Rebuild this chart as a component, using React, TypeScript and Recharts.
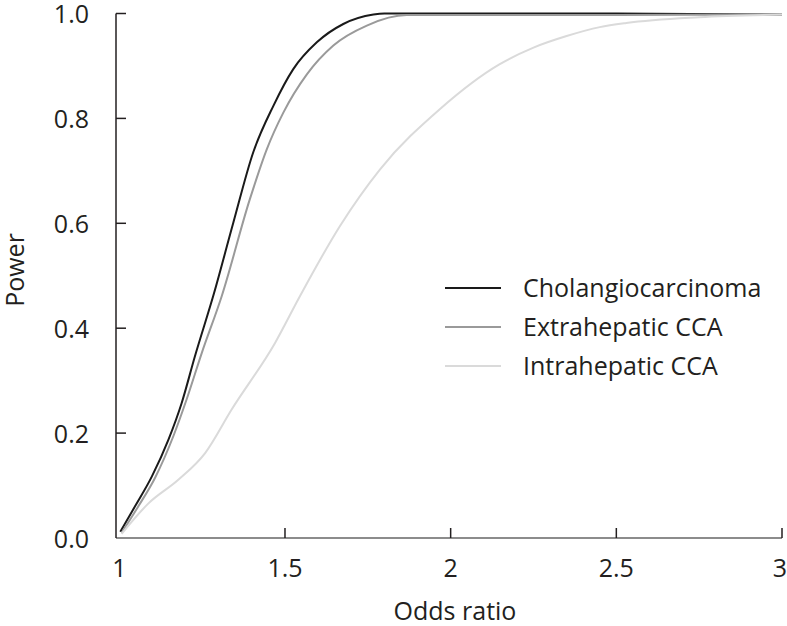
import React from 'react';
import { LineChart, Line, XAxis, YAxis } from 'recharts';

const choOR = [1.003, 1.047, 1.098, 1.148, 1.188, 1.228, 1.286, 1.344, 1.404, 1.465, 1.525, 1.596, 1.676, 1.767, 1.8, 1.9, 2.5, 3];
const choPower = [0.012, 0.06, 0.117, 0.187, 0.257, 0.346, 0.467, 0.601, 0.735, 0.824, 0.894, 0.945, 0.98, 0.998, 1.0, 1.0, 1.0, 0.998];

const extOR = [1.007, 1.057, 1.108, 1.163, 1.203, 1.249, 1.309, 1.394, 1.445, 1.495, 1.566, 1.646, 1.747, 1.867, 2.5, 3];
const extPower = [0.01, 0.06, 0.115, 0.194, 0.264, 0.353, 0.461, 0.646, 0.741, 0.811, 0.884, 0.939, 0.977, 0.997, 0.997, 0.998];

const intOR = [1.007, 1.088, 1.178, 1.259, 1.339, 1.47, 1.545, 1.666, 1.787, 1.968, 2.147, 2.25, 2.35, 2.45, 2.53, 2.75, 3];
const intPower = [0.008, 0.066, 0.111, 0.162, 0.245, 0.372, 0.461, 0.595, 0.703, 0.818, 0.903, 0.935, 0.957, 0.974, 0.982, 0.993, 0.998];

const seriesNames = ['Cholangiocarcinoma', 'Extrahepatic CCA', 'Intrahepatic CCA'];
const seriesColors = ['#1a1a1a', '#9a9a9a', '#dadada'];
const xTicks = [1, 1.5, 2, 2.5, 3];
const yTicks = [0, 0.2, 0.4, 0.6, 0.8, 1.0];
const xLabel = 'Odds ratio';
const yLabel = 'Power';

const zip = (xs: number[], ys: number[]) => xs.map((x, i) => ({ x, y: ys[i] }));
const series = [zip(choOR, choPower), zip(extOR, extPower), zip(intOR, intPower)];

const FONT = '"Open Sans", sans-serif';
const TEXT = '#231f20';
const FS = 25;

const YTick = (props: any) => {
  const { x, y, payload } = props;
  const ax = x + 27;
  return (
    <g>
      {payload.value > 0 && (
        <line x1={ax} x2={ax + 10} y1={y} y2={y} stroke={TEXT} strokeWidth={1.5} />
      )}
      <text x={x} y={y} dy={9.5} textAnchor="end" fontFamily={FONT} fontSize={FS} fill={TEXT}>
        {payload.value.toFixed(1)}
      </text>
    </g>
  );
};

const XTick = (props: any) => {
  const { x, y, payload } = props;
  return (
    <g>
      {payload.value > 1 && (
        <line x1={x} x2={x} y1={y} y2={y - 10} stroke={TEXT} strokeWidth={1.5} />
      )}
      <text x={payload.value === 3 ? x - 2 : x} y={y + 39} textAnchor="middle" fontFamily={FONT} fontSize={FS} fill={TEXT}>
        {String(payload.value)}
      </text>
    </g>
  );
};

const XLabel = () => (
  <text x={455} y={620} textAnchor="middle" fontFamily={FONT} fontSize={FS} fill={TEXT}>
    {xLabel}
  </text>
);

const YLabel = () => (
  <text x={24} y={270} transform="rotate(-90, 24, 270)" textAnchor="middle" fontFamily={FONT} fontSize={FS} fill={TEXT}>
    {yLabel}
  </text>
);

const LegendBox = () => (
  <div style={{ position: 'absolute', left: 445, top: 268, fontFamily: FONT, fontSize: FS, color: TEXT }}>
    {seriesNames.map((n, i) => (
      <div key={n} style={{ display: 'flex', alignItems: 'center', height: 39, lineHeight: '39px' }}>
        <svg width={56} height={4} style={{ marginRight: 22 }}>
          <line x1={0} x2={56} y1={2} y2={2} stroke={seriesColors[i]} strokeWidth={2} />
        </svg>
        <span style={{ whiteSpace: 'nowrap' }}>{n}</span>
      </div>
    ))}
  </div>
);

export default function App() {
  return (
    <div style={{ position: 'absolute', left: 0, top: 0, width: 787, height: 626, background: '#fff' }}>
      <LineChart width={787} height={626} margin={{ top: 13.5, right: 5, bottom: 58, left: 0 }}>
        <XAxis
          type="number"
          dataKey="x"
          domain={[0.99, 3]}
          ticks={xTicks}
          interval={0}
          allowDataOverflow
          tickSize={0}
          tickMargin={0}
          height={30}
          stroke="#8c8c8c"
          axisLine={{ stroke: '#8c8c8c', strokeWidth: 2 }}
          tickLine={false}
          tick={<XTick />}
          label={<XLabel />}
        />
        <YAxis
          type="number"
          dataKey="y"
          domain={[0, 1]}
          ticks={yTicks}
          interval={0}
          width={116}
          tickSize={0}
          tickMargin={27}
          axisLine={{ stroke: TEXT, strokeWidth: 1.5 }}
          tickLine={false}
          tick={<YTick />}
          label={<YLabel />}
        />
        {series.map((d, i) => (
          <Line
            key={seriesNames[i]}
            data={d}
            dataKey="y"
            name={seriesNames[i]}
            type="monotone"
            stroke={seriesColors[i]}
            strokeWidth={2}
            dot={false}
            activeDot={false}
            isAnimationActive={false}
          />
        ))}
      </LineChart>
      <LegendBox />
    </div>
  );
}
